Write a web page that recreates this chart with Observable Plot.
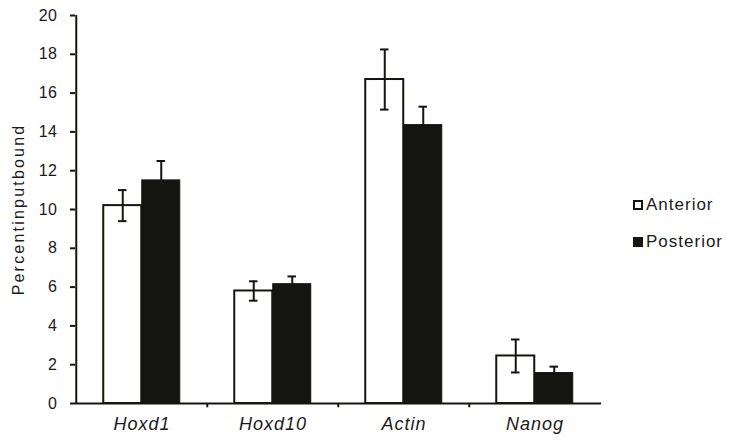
<!DOCTYPE html>
<html>
<head>
<meta charset="utf-8">
<script src="https://cdn.jsdelivr.net/npm/d3@7"></script>
<script src="https://cdn.jsdelivr.net/npm/@observablehq/plot@0.6"></script>
<style>
  html, body { margin: 0; padding: 0; background: #fff; }
  #wrap { position: relative; width: 731px; height: 441px; font-family: "Liberation Sans", Arial, sans-serif; color: #1a1a1a; }
  .leg { position: absolute; left: 633px; display: flex; align-items: center; font-size: 17px; letter-spacing: 1px; line-height: 17px; }
  .sw { width: 10px; height: 10px; box-sizing: border-box; margin-right: 3px; }
</style>
</head>
<body>
<div id="wrap"></div>
<script>
const genes = ["Hoxd1", "Hoxd10", "Actin", "Nanog"];
const series = ["Anterior", "Posterior"];
const anteriorMean = [10.2, 5.8, 16.7, 2.45];
const anteriorErr = [0.8, 0.5, 1.55, 0.85];
const posteriorMean = [11.5, 6.15, 14.35, 1.57];
const posteriorErr = [1.0, 0.4, 0.95, 0.33];
const yTicks = [0, 2, 4, 6, 8, 10, 12, 14, 16, 18, 20];
const yLabel = "Percentinputbound";

const rows = [];
genes.forEach((g, i) => {
  rows.push({gene: g, series: "Anterior", mean: anteriorMean[i], err: anteriorErr[i]});
  rows.push({gene: g, series: "Posterior", mean: posteriorMean[i], err: posteriorErr[i]});
});
const ant = rows.filter(d => d.series === "Anterior");
const post = rows.filter(d => d.series === "Posterior");

const W = 731, H = 441, ML = 75, MR = 130, MT = 15, MB = 38;
const bw = (W - ML - MR) / genes.length;
const barW = 38.5;
const cap = 4.5;
const ink = "#141411";

const errMarks = (data, dx) => [
  Plot.ruleX(data, {x: "gene", y1: d => d.mean - d.err, y2: d => d.mean + d.err, dx, stroke: ink, strokeWidth: 2}),
  Plot.tickY(data, {x: "gene", y: d => d.mean + d.err, dx, insetLeft: bw / 2 - cap, insetRight: bw / 2 - cap, stroke: ink, strokeWidth: 2}),
  Plot.tickY(data, {x: "gene", y: d => d.mean - d.err, dx, insetLeft: bw / 2 - cap, insetRight: bw / 2 - cap, stroke: ink, strokeWidth: 2})
];

const chart = Plot.plot({
  width: W, height: H,
  marginLeft: ML, marginRight: MR, marginTop: MT, marginBottom: MB,
  style: {fontFamily: "Liberation Sans, Arial, sans-serif", color: "#1a1a1a", background: "#fff"},
  x: {domain: genes, padding: 0, axis: null},
  y: {domain: [0, 20], axis: null},
  marks: [
    Plot.barY(ant, {x: "gene", y: "mean", fill: "#fff", stroke: ink, strokeWidth: 2, insetLeft: bw / 2 - barW, insetRight: bw / 2}),
    Plot.barY(post, {x: "gene", y: "mean", fill: ink, stroke: ink, strokeWidth: 1, insetLeft: bw / 2, insetRight: bw / 2 - barW}),
    ...errMarks(ant, -barW / 2),
    ...errMarks(post, barW / 2),
    Plot.axisY({ticks: yTicks, tickSize: 5, tickPadding: 13, fontSize: 16, strokeWidth: 2, stroke: ink,
      label: yLabel, labelAnchor: "center", labelOffset: 63, labelArrow: "none"}),
    Plot.axisX({tickSize: 0, tickPadding: 14, fontSize: 18, fontStyle: "italic", label: null}),
    Plot.ruleX([genes[0]], {x: d => d, dx: -bw / 2, y1: 0, y2: 20, stroke: ink, strokeWidth: 2}),
    Plot.ruleY([0], {stroke: ink, strokeWidth: 2}),
    Plot.ruleX(genes.slice(1), {x: d => d, dx: -bw / 2, y1: 0, y2: -0.22, stroke: ink, strokeWidth: 2})
  ]
});

const svg = d3.select(chart);
svg.selectAll('g[aria-label="y-axis tick label"] text').style("font-size", "16px").attr("letter-spacing", "0.5px");
svg.selectAll('g[aria-label="x-axis tick label"] text').attr("letter-spacing", "1px");
svg.selectAll('g[aria-label="y-axis label"] text').style("font-size", "16px").attr("letter-spacing", "2.2px");

const wrap = document.getElementById("wrap");
wrap.appendChild(chart);

const legTops = [196, 233];
series.forEach((s, i) => {
  const row = document.createElement("div");
  row.className = "leg";
  row.style.top = legTops[i] + "px";
  const sw = document.createElement("div");
  sw.className = "sw";
  sw.style.border = "2px solid " + ink;
  sw.style.background = i === 0 ? "#fff" : ink;
  const t = document.createElement("span");
  t.textContent = s;
  row.appendChild(sw);
  row.appendChild(t);
  wrap.appendChild(row);
});
</script>
</body>
</html>
